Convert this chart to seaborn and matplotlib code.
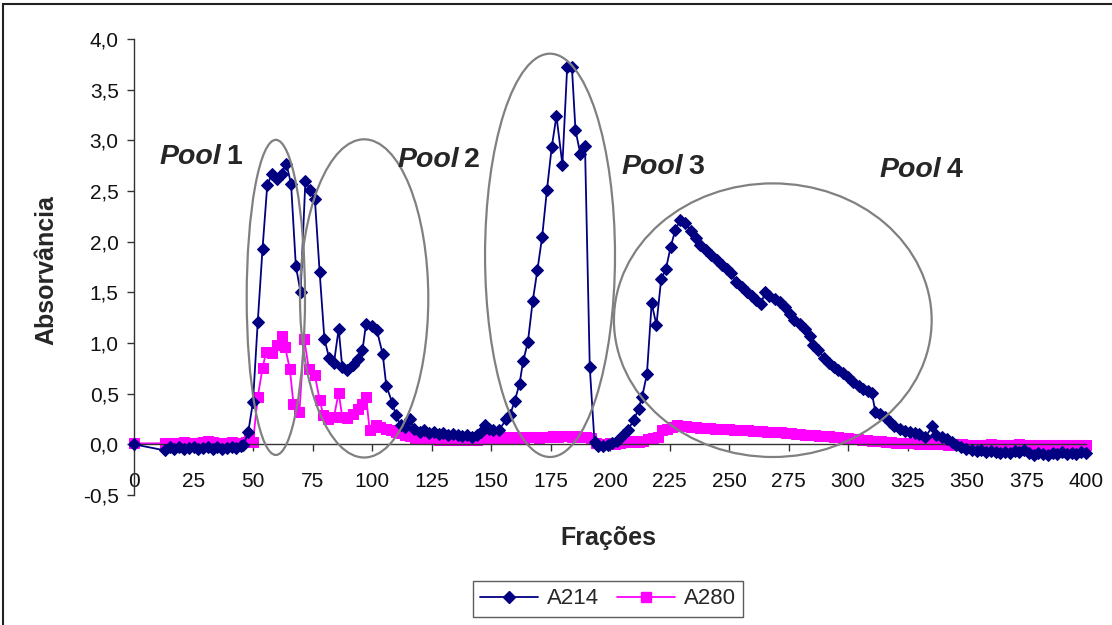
import matplotlib
matplotlib.use("Agg")
import matplotlib.pyplot as plt
from matplotlib.patches import Ellipse, Rectangle
from matplotlib.ticker import FuncFormatter
from matplotlib.lines import Line2D
import seaborn as sns
import pandas as pd

# ---------------- data ----------------
a214_x = [0, 13, 15, 17, 19, 21, 23, 25, 27, 29, 31, 33, 35, 37, 39, 41, 43, 45, 46, 48,
          50, 52, 54, 56, 58, 60, 62, 64, 66, 68, 70, 72, 74, 76, 78, 80, 82, 84, 86, 87.5,
          89.5, 92, 94, 96, 97.5, 100, 102, 104.5, 106, 108.5, 110, 112, 114, 116, 117.5, 120,
          122, 124, 126, 128, 130, 132, 134, 136, 138, 140, 142, 144, 146, 147.5, 149, 151,
          153.5, 156.5, 158, 160, 162, 163.5, 165.5, 167.5, 169.5, 171.5, 173.5, 175.5, 177.5,
          180, 182, 184, 185.5, 187.5, 189.5, 191.5, 193.5, 195, 197, 199, 201, 203, 205.5,
          207.5, 210, 212, 213.5, 215.5, 217.5, 219.5, 221.5, 223.5, 225.5, 227.5, 229.5, 231.5,
          234, 236, 238, 240.5, 242.5, 245, 247, 249, 251, 253, 255.5, 257.5, 259.5, 261.5,
          263.5, 265, 267, 269.5, 271.5, 273.5, 275.5, 277.5, 280, 282, 284, 285.5, 287.5, 290,
          292, 294, 296, 298, 300, 302, 304.5, 306.5, 308.5, 310, 311.5, 313.5, 315.5, 317.5,
          319.5, 322, 324, 326, 328, 330, 332.5, 335.5, 337, 339.5, 341.5, 343.5, 345.5, 347.5,
          349.5, 352, 354, 356, 358, 360, 362, 364, 366, 368, 370, 372, 374, 376, 378, 380,
          382, 384, 386, 388, 390, 392, 394, 396, 398, 400]
a214_y = [0.00, -0.06, -0.03, -0.05, -0.03, -0.05, -0.04, -0.03, -0.05, -0.04, -0.03, -0.05,
          -0.03, -0.05, -0.04, -0.03, -0.04, -0.02, -0.01, 0.12,
          0.42, 1.21, 1.93, 2.56, 2.67, 2.62, 2.67, 2.77, 2.57, 1.76, 1.50, 2.60, 2.51, 2.42,
          1.70, 1.04, 0.85, 0.80, 1.14, 0.76,
          0.73, 0.78, 0.84, 0.93, 1.19, 1.17, 1.13, 0.89, 0.58, 0.41, 0.29, 0.19, 0.17, 0.25,
          0.15, 0.12,
          0.14, 0.11, 0.12, 0.10, 0.11, 0.09, 0.10, 0.09, 0.08, 0.09, 0.07, 0.09, 0.12, 0.19,
          0.15, 0.14,
          0.145, 0.25, 0.29, 0.43, 0.60, 0.82, 1.01, 1.41, 1.72, 2.05, 2.51, 2.93, 3.24,
          2.76, 3.72, 3.72, 3.10, 2.87, 2.94, 0.76, 0.02, -0.02, -0.02, -0.01, 0.01, 0.03, 0.09,
          0.14, 0.24, 0.35, 0.47, 0.69, 1.39, 1.18, 1.63, 1.73, 1.95, 2.12, 2.21, 2.18,
          2.11, 2.04, 1.97, 1.92, 1.87, 1.82, 1.77, 1.73, 1.69, 1.60, 1.55, 1.50, 1.46, 1.42,
          1.38, 1.50, 1.46, 1.43, 1.40, 1.36, 1.29, 1.23, 1.19, 1.14, 1.07, 0.98, 0.93, 0.85,
          0.80, 0.76, 0.73, 0.70, 0.66, 0.62, 0.58, 0.55, 0.53, 0.51, 0.32, 0.30, 0.27, 0.22,
          0.18, 0.155, 0.13, 0.12, 0.11, 0.10, 0.07, 0.18, 0.09, 0.07, 0.05, 0.02, -0.01, -0.03,
          -0.05, -0.06, -0.07, -0.06, -0.08, -0.07, -0.08, -0.09, -0.08, -0.09, -0.07, -0.08,
          -0.06, -0.09, -0.11, -0.09,
          -0.10, -0.11, -0.09, -0.10, -0.08, -0.10, -0.09, -0.10, -0.08, -0.09]

a280_x = [0, 13, 15, 17, 19, 21, 23, 25, 27, 29, 31, 33, 35, 37, 39, 41, 43, 45, 47, 48.5,
          50, 52, 54, 55.5, 58, 60, 62, 63.5, 65.5, 67, 69.5, 71.5, 73.5, 76, 78, 79.5, 81.5,
          84, 86, 87.5, 89.5, 92, 94, 96, 97.5, 99, 101.5, 103.5, 106, 108, 110, 112, 114, 116,
          118, 120, 122, 124, 126, 128, 130, 132, 134, 136, 138, 140, 142, 144, 146, 148, 150,
          152, 154, 156, 158, 160, 162, 164, 166, 168, 170, 172, 174, 176, 178, 180, 182, 184,
          186, 188, 190, 192, 194, 196, 198, 200, 202, 204, 206, 208, 210, 212, 214, 216, 218,
          220, 222, 224, 226, 228, 230, 232, 234, 236, 238, 240, 242, 244, 246, 248, 250, 252,
          254, 256, 258, 260, 262, 264, 266, 268, 270, 272, 274, 276, 278, 280, 282, 284, 286,
          288, 290, 292, 294, 296, 298, 300, 302, 304, 306, 308, 310, 312, 314, 316, 318, 320,
          322, 324, 326, 328, 330, 332, 334, 336, 338, 340, 342, 344, 346, 348, 350, 352, 354,
          356, 358, 360, 362, 364, 366, 368, 370, 372, 374, 376, 378, 380, 382, 384, 386, 388,
          390, 392, 394, 396, 398, 400]
a280_y = [0.01, 0.01, 0.01, 0.01, 0.01, 0.02, 0.01, 0.01, 0.01, 0.02, 0.03, 0.02, 0.01, 0.01,
          0.01, 0.02, 0.01, 0.01, 0.02, 0.07,
          0.02, 0.47, 0.75, 0.91, 0.90, 0.98, 1.07, 0.96, 0.74, 0.40, 0.32, 1.04, 0.74, 0.68,
          0.44, 0.29, 0.25,
          0.27, 0.51, 0.27, 0.26, 0.30, 0.35, 0.40, 0.47, 0.145, 0.19, 0.17, 0.155, 0.14, 0.12,
          0.11, 0.09, 0.08,
          0.06, 0.06, 0.05, 0.05, 0.05, 0.04, 0.05, 0.04, 0.05, 0.04, 0.05, 0.04, 0.05, 0.04,
          0.05, 0.06, 0.06,
          0.06, 0.07, 0.06, 0.07, 0.06, 0.07, 0.06, 0.07, 0.07, 0.06, 0.07, 0.07, 0.08, 0.07,
          0.08, 0.08, 0.07,
          0.08, 0.07, 0.07, 0.06, 0.01, 0.00, 0.00, 0.01, 0.00, 0.01, 0.02, 0.02, 0.03, 0.02,
          0.03, 0.05, 0.06,
          0.07, 0.14, 0.155, 0.17, 0.19, 0.18, 0.18, 0.17, 0.17, 0.16, 0.16, 0.16, 0.15, 0.15,
          0.15, 0.15, 0.14,
          0.14, 0.14, 0.14, 0.13, 0.13, 0.13, 0.12, 0.12, 0.12, 0.12, 0.11, 0.11, 0.10, 0.10,
          0.09, 0.09, 0.09,
          0.08, 0.08, 0.08, 0.07, 0.07, 0.06, 0.06, 0.05, 0.05, 0.04, 0.04, 0.03, 0.03, 0.03,
          0.02, 0.02, 0.01,
          0.01, 0.01, 0.01, 0.01, 0.00, 0.01, 0.00, 0.01, 0.00, 0.00, -0.01, 0.00, -0.01, 0.00,
          -0.01, -0.01, -0.01,
          -0.01, -0.01, 0.00, -0.01, -0.01, -0.01, -0.01, -0.01, 0.00, -0.01, -0.01, -0.01,
          -0.01, -0.01, -0.01, -0.01, -0.01, -0.01,
          -0.01, -0.01, -0.01, -0.01, -0.01]

series_names = ["A214", "A280"]
x_ticks = list(range(0, 401, 25))
y_ticks = [-0.5, 0.0, 0.5, 1.0, 1.5, 2.0, 2.5, 3.0, 3.5, 4.0]
pool_labels = ["1", "2", "3", "4"]
# ellipse (center x, center y, width, height) in data units
pool_ellipses = [(59.6, 1.45, 24.5, 3.11), (96.7, 1.44, 53.9, 3.14),
                 (174.8, 1.865, 54.6, 3.98), (268.4, 1.225, 133.5, 2.70)]
pool_text_pos = [(10.9, 2.84), (110.9, 2.81), (205.0, 2.74), (313.4, 2.71)]

# ---------------- plot ----------------
sns.set_theme(style="white")
plt.rcParams["font.family"] = ["Liberation Sans", "DejaVu Sans"]

fig = plt.figure(figsize=(11.12, 6.25), dpi=100)
ax = fig.add_axes([134 / 1112, 1 - 495 / 625, (1086 - 134) / 1112, (495 - 39) / 625])

df214 = pd.DataFrame({"x": a214_x, "y": a214_y})
df280 = pd.DataFrame({"x": a280_x, "y": a280_y})

navy = "#000080"
magenta = "#FF00FF"
sns.lineplot(data=df214, x="x", y="y", ax=ax, color=navy, marker="D", markersize=6.5,
             markeredgecolor=navy, linewidth=1.3, sort=False, estimator=None, zorder=3)
sns.lineplot(data=df280, x="x", y="y", ax=ax, color=magenta, marker="s", markersize=6.5,
             markeredgecolor=magenta, linewidth=1.3, sort=False, estimator=None, zorder=2)
for ln in ax.lines:
    ln.set_clip_on(False)

ax.set_xlim(0, 400)
ax.set_ylim(-0.5, 4.0)
ax.set_xticks(x_ticks)
ax.set_yticks(y_ticks)
ax.yaxis.set_major_formatter(FuncFormatter(lambda v, p: f"{v:.1f}".replace(".", ",")))
ax.xaxis.set_major_formatter(FuncFormatter(lambda v, p: f"{int(round(v))}"))

for s in ["top", "right"]:
    ax.spines[s].set_visible(False)
ax.spines["bottom"].set_position(("data", 0))
for s in ["left", "bottom"]:
    ax.spines[s].set_color("#333333")
    ax.spines[s].set_linewidth(1.0)
ax.tick_params(axis="x", direction="out", length=5, width=1, color="#333333",
               pad=15, labelsize=15, labelcolor="#111111", bottom=True)
ax.tick_params(axis="y", direction="out", length=5, width=1, color="#333333",
               pad=6, labelsize=15, labelcolor="#111111", left=True)
ax.grid(False)

ax.set_xlabel("Frações", fontsize=18, fontweight="bold")
ax.xaxis.set_label_coords(0.498, -0.094)
ax.xaxis.label.set_va("center")
ax.set_ylabel("Absorvância", fontsize=18, fontweight="bold")
ax.yaxis.set_label_coords(-0.0924, 0.493)
ax.yaxis.label.set_va("center")

for (cx, cy, w, h) in pool_ellipses:
    ax.add_patch(Ellipse((cx, cy), w, h, fill=False, edgecolor="#808080",
                         linewidth=1.6, zorder=5, clip_on=False))

for lab, (tx, ty) in zip(pool_labels, pool_text_pos):
    t = ax.text(tx, ty, "Pool", fontsize=20.5, fontweight="bold", fontstyle="italic",
                ha="left", va="center", zorder=6)
    ax.annotate(lab, xy=(1, 0), xycoords=t, xytext=(3.5, 0), textcoords="offset points",
                fontsize=20.5, fontweight="bold", ha="left", va="bottom", zorder=6)

handles = [Line2D([0], [0], color=navy, marker="D", markersize=6.5, lw=1.3),
           Line2D([0], [0], color=magenta, marker="s", markersize=6.5, lw=1.3)]
leg = ax.legend(handles, series_names, loc="center", bbox_to_anchor=(608 / 1112, 1 - 599 / 625),
                bbox_transform=fig.transFigure, ncol=2, frameon=True, fancybox=False,
                edgecolor="#333333", fontsize=16, handlelength=2.6, columnspacing=0.8,
                handletextpad=0.4, borderpad=0.35)
leg.get_frame().set_linewidth(1.0)

# figure border (top and left edges visible, as in the reference)
fig.patches.append(Rectangle((3 / 1112, -0.05), 1.2, 1.05 - 4 / 625,
                             transform=fig.transFigure, fill=False, edgecolor="#222222",
                             linewidth=1.5))

fig.savefig("out.png", dpi=100)
